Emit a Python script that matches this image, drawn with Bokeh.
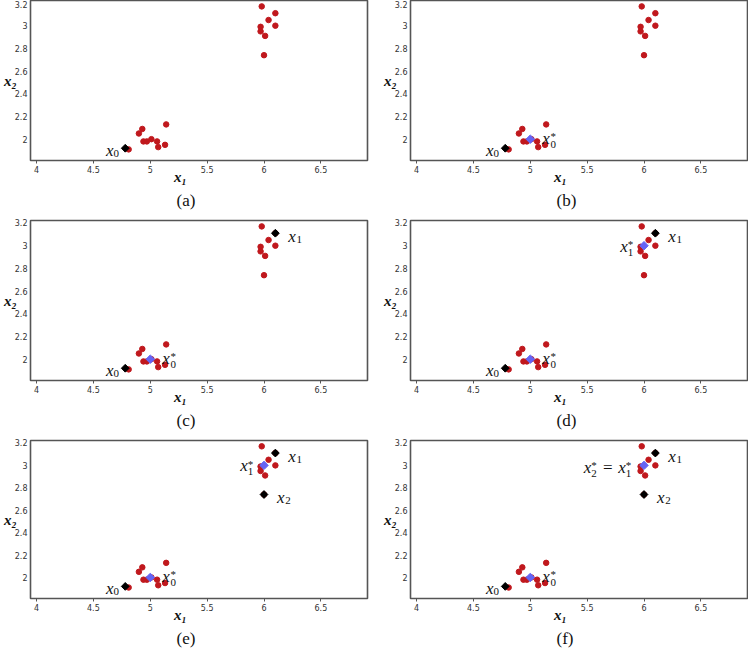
import math
from bokeh.plotting import figure
from bokeh.models import Label, Range1d, FixedTicker, Title
from bokeh.layouts import column, row
from bokeh.embed import file_html
from bokeh.resources import INLINE

# ---- data ----
red_x = [5.98, 6.10, 6.04, 5.97, 6.10, 5.97, 6.01, 6.00,
         4.90, 4.93, 5.14, 4.94, 4.97, 5.01, 5.06, 5.07, 5.13, 4.81]
red_y = [3.17, 3.11, 3.05, 2.99, 3.00, 2.95, 2.91, 2.74,
         2.05, 2.09, 2.13, 1.98, 1.98, 2.00, 1.98, 1.93, 1.95, 1.91]
iter_x = [4.78, 6.10, 6.00]          # x0, x1, x2
iter_y = [1.92, 3.11, 2.74]
star_x = [5.00, 6.00]                # x0*, x1*
star_y = [2.00, 3.00]
x_ticks = [4, 4.5, 5, 5.5, 6, 6.5]
x_tick_labels = ["4", "4.5", "5", "5.5", "6", "6.5"]
y_ticks = [2, 2.2, 2.4, 2.6, 2.8, 3, 3.2]
y_tick_labels = ["2", "2.2", "2.4", "2.6", "2.8", "3", "3.2"]
captions = ["(a)", "(b)", "(c)", "(d)", "(e)", "(f)"]
n_iter = [1, 1, 2, 2, 3, 3]
n_star = [0, 1, 1, 2, 2, 2]

X0, X1 = 3.947, 6.91
Y0, Y1 = 1.812, 3.222

RED = "#c0181d"
BLUE = "#6464f4"
INK = "#111111"
SERIF = "Liberation Serif"
NBSP = "\u00a0"


def put(p, x, y, text, dx, dy, size, align="left", style="italic"):
    p.add_layout(Label(x=x, y=y, x_offset=dx, y_offset=dy, text=text,
                       text_font=SERIF, text_font_size=f"{size}px",
                       text_font_style=style, text_align=align,
                       text_baseline="alphabetic", text_color=INK))


def math_left(p, x, y, sub, star, off, bdy, size=17, ssize=11):
    xw = 0.48 * size
    put(p, x, y, "x", off, bdy, size, "left", "italic")
    put(p, x, y, sub, off + xw, bdy - (6 if star else 2.5), ssize, "left", "normal")
    if star:
        put(p, x, y, "*", off + xw, bdy + 2, ssize, "left", "normal")


def math_right(p, x, y, sub, star, end, bdy, size=17, ssize=11):
    sw = 0.52 * ssize
    start = end - sw
    put(p, x, y, sub, start, bdy - (6 if star else 2.5), ssize, "left", "normal")
    if star:
        put(p, x, y, "*", start, bdy + 2, ssize, "left", "normal")
    put(p, x, y, "x", start, bdy, size, "right", "italic")
    return start - 0.48 * size


def make_fig(i):
    col, r = i % 2, i // 2
    top = [0, 10, 10][r]
    frame_h = 162
    bottom = [48, 48, 46][r]
    h = top + frame_h + bottom
    left = 30 if col == 0 else 36
    right = 7 if col == 0 else 1
    p = figure(width=374, height=h, x_range=Range1d(X0, X1), y_range=Range1d(Y0, Y1),
               output_backend="svg", toolbar_location=None, tools="",
               min_border_left=left, min_border_right=right,
               min_border_top=top, min_border_bottom=bottom)
    p.xgrid.grid_line_color = None
    p.ygrid.grid_line_color = None
    p.outline_line_color = "#555555"
    p.outline_line_width = 1.6
    for ax in (p.xaxis[0], p.yaxis[0]):
        ax.axis_line_color = None
        ax.minor_tick_line_color = None
        ax.major_label_text_font = "DejaVu Sans"
        ax.major_label_text_font_size = "8px"
        ax.major_label_text_color = "#333333"
        ax.major_tick_line_color = "#555555"
        ax.major_tick_in = 0
        ax.axis_label_text_font = SERIF
        ax.axis_label_text_font_style = "bold italic"
        ax.axis_label_text_font_size = "15px"
        ax.axis_label_text_color = INK
    p.xaxis.ticker = FixedTicker(ticks=x_ticks)
    p.xaxis.major_label_overrides = {t: s for t, s in zip(x_ticks, x_tick_labels)}
    p.xaxis.major_tick_out = 3
    p.xaxis.major_label_standoff = 2
    # trailing no-break spaces move the centred label left, as in the reference
    p.xaxis.axis_label = "x\u2081" + NBSP * 10
    p.xaxis.axis_label_standoff = -7
    p.yaxis.ticker = FixedTicker(ticks=y_ticks)
    p.yaxis.major_label_overrides = {t: s for t, s in zip(y_ticks, y_tick_labels)}
    p.yaxis.major_tick_out = 0
    p.yaxis.major_label_standoff = 3
    p.yaxis.axis_label = "x\u2082"
    p.yaxis.axis_label_orientation = "horizontal"
    p.yaxis.axis_label_standoff = -5

    p.add_layout(Title(text=captions[i], align="left", offset=146, standoff=2,
                       text_font=SERIF, text_font_style="normal",
                       text_font_size="17px", text_color=INK), "below")

    # points
    p.scatter(red_x, red_y, size=5.5, color=RED, line_color=RED)
    k = n_iter[i]
    p.scatter(iter_x[:k], iter_y[:k], marker="square", angle=math.pi / 4,
              size=5.5, color="black", line_color="black")
    s = n_star[i]
    if s:
        p.scatter(star_x[:s], star_y[:s], marker="square", angle=math.pi / 4,
                  size=6, color=BLUE, line_color=BLUE)

    # point labels
    math_right(p, iter_x[0], iter_y[0], "0", False, -6, -2.4)
    if s >= 1:
        math_left(p, star_x[0], star_y[0], "0", True, 12, 1)
    if k >= 2:
        math_left(p, iter_x[1], iter_y[1], "1", False, 13, -3.7)
    if k >= 3:
        math_left(p, iter_x[2], iter_y[2], "2", False, 13, -3)
    if s >= 2:
        if i == 5:
            nxt = math_right(p, star_x[1], star_y[1], "1", True, -12.5, -2)
            put(p, star_x[1], star_y[1], "=", nxt - 5, -2, 17, "right", "normal")
            math_right(p, star_x[1], star_y[1], "2", True, nxt - 5 - 9.6 - 6, -2)
        else:
            math_right(p, star_x[1], star_y[1], "1", True, -10.5, -0.6)
    return p


figs = [make_fig(i) for i in range(6)]
layout = column(row(figs[0], figs[1]), row(figs[2], figs[3]), row(figs[4], figs[5]))
open("out.html", "w").write(file_html(layout, INLINE))
